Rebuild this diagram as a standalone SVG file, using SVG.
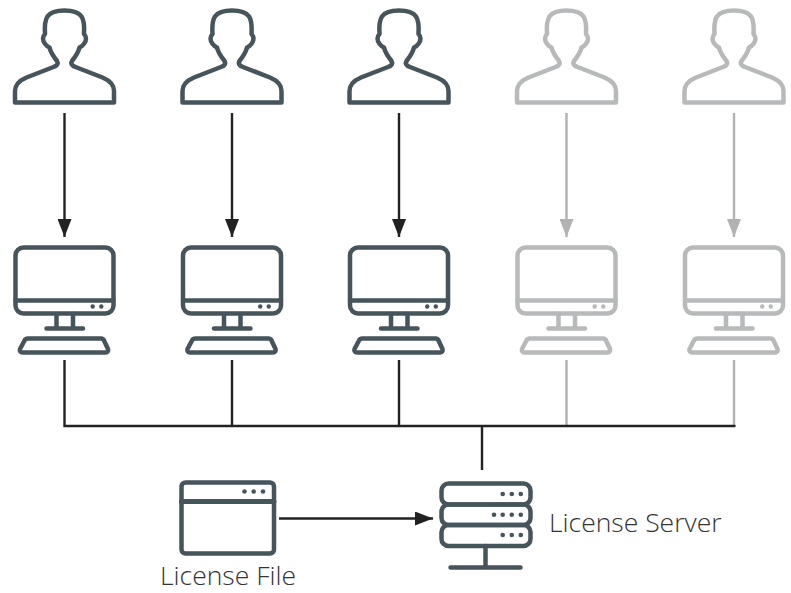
<svg xmlns="http://www.w3.org/2000/svg" xmlns:xlink="http://www.w3.org/1999/xlink" width="791" height="593" viewBox="0 0 791 593">
<style>
.ic{fill:none;stroke-width:4.5;stroke-linejoin:round;stroke-linecap:round}
.dk{stroke:#46545c}.lt{stroke:#b7b9ba}
.dd{fill:#46545c}.ld{fill:#b7b9ba}
.c{fill:none;stroke-width:2.4}
.cd{stroke:#222}.cl{stroke:#b2b2b2}
.t{font-family:"Open Sans","Noto Sans",sans-serif;font-weight:300;font-size:26.500px;fill:#333}
</style>
<defs>
<marker id="ad" markerUnits="userSpaceOnUse" markerWidth="18" markerHeight="14" refX="18" refY="7" viewBox="0 0 18 14" orient="auto"><path d="M0,0L18,7L0,14Z" fill="#222"/></marker>
<marker id="al" markerUnits="userSpaceOnUse" markerWidth="18" markerHeight="14" refX="18" refY="7" viewBox="0 0 18 14" orient="auto"><path d="M0,0L18,7L0,14Z" fill="#b2b2b2"/></marker>
<path id="person" d="M-49.500,102.500H49.500V91C49.500,85 45,80.500 38,77.500L11,67C7,65.500 6,63.500 7.500,61C11,56.500 14,52 15,47.500C18.500,46 21.500,42 21.500,38.500C21.500,36.500 20.500,35 19.500,34C20.500,18 18,10.500 0,10.500C-18,10.500 -20.500,18 -19.500,34C-20.500,35 -21.500,36.500 -21.500,38.500C-21.500,42 -18.500,46 -15,47.500C-14,52 -11,56.500 -7.500,61C-6,63.500 -7,65.500 -11,67L-38,77.500C-45,80.500 -49.500,85 -49.500,91Z"/>
<g id="pc">
<rect x="-49" y="247.500" width="98" height="66" rx="8"/>
<path d="M-49,300.500H49M-8,314V328.500M8.500,314V328.500M-18,328.500H18.500M-36.500,338.500H36.500C38,338.500 39,339 39.500,340.500L43.500,349C44,351 43,352.500 41,352.500H-42C-44,352.500 -45,351 -44.500,349L-40,340.500C-39.500,339 -38.500,338.500 -36.500,338.500Z"/>
</g>
</defs>
<g id="connectors">
<path class="c cd" d="M64.500,113V237" marker-end="url(#ad)"/>
<path class="c cd" d="M232,113V237" marker-end="url(#ad)"/>
<path class="c cd" d="M399,113V237" marker-end="url(#ad)"/>
<path class="c cl" d="M566.500,113V237" marker-end="url(#al)"/>
<path class="c cl" d="M734,113V237" marker-end="url(#al)"/>
<path class="c cl" d="M566.500,360V426M734,360V426"/>
<path class="c cd" d="M64.500,360V426M232,360V426M399,360V426M63.300,426H735.500M482,426V470"/>
<path class="c cd" d="M279,518.500H433" marker-end="url(#ad)"/>
</g>
<g id="user1" class="ic dk" transform="translate(64.500,0)"><use xlink:href="#person"/></g>
<g id="user2" class="ic dk" transform="translate(232,0)"><use xlink:href="#person"/></g>
<g id="user3" class="ic dk" transform="translate(399,0)"><use xlink:href="#person"/></g>
<g id="user4" class="ic lt" transform="translate(566.500,0)"><use xlink:href="#person"/></g>
<g id="user5" class="ic lt" transform="translate(734,0)"><use xlink:href="#person"/></g>
<g id="pc1" class="ic dk" transform="translate(64.500,0)"><use xlink:href="#pc"/><circle class="dd" cx="28.200" cy="306.500" r="2.200" style="stroke:none"/><circle class="dd" cx="36.800" cy="306.500" r="2.200" style="stroke:none"/></g>
<g id="pc2" class="ic dk" transform="translate(232,0)"><use xlink:href="#pc"/><circle class="dd" cx="28.200" cy="306.500" r="2.200" style="stroke:none"/><circle class="dd" cx="36.800" cy="306.500" r="2.200" style="stroke:none"/></g>
<g id="pc3" class="ic dk" transform="translate(399,0)"><use xlink:href="#pc"/><circle class="dd" cx="28.200" cy="306.500" r="2.200" style="stroke:none"/><circle class="dd" cx="36.800" cy="306.500" r="2.200" style="stroke:none"/></g>
<g id="pc4" class="ic lt" transform="translate(566.500,0)"><use xlink:href="#pc"/><circle class="ld" cx="28.200" cy="306.500" r="2.200" style="stroke:none"/><circle class="ld" cx="36.800" cy="306.500" r="2.200" style="stroke:none"/></g>
<g id="pc5" class="ic lt" transform="translate(734,0)"><use xlink:href="#pc"/><circle class="ld" cx="28.200" cy="306.500" r="2.200" style="stroke:none"/><circle class="ld" cx="36.800" cy="306.500" r="2.200" style="stroke:none"/></g>
<g id="license-file">
<rect class="ic dk" x="181.500" y="482.500" width="92.500" height="71" rx="4"/>
<path class="ic dk" style="stroke-width:5" d="M181.500,501.500H274"/>
<circle class="dd" cx="244.500" cy="491.500" r="2.300"/><circle class="dd" cx="253.700" cy="491.500" r="2.300"/><circle class="dd" cx="263" cy="491.500" r="2.300"/>
<text class="t" x="160" y="585">License File</text>
</g>
<g id="license-server">
<rect class="ic dk" x="441.500" y="483.500" width="89" height="21" rx="7"/>
<rect class="ic dk" x="441.500" y="504.500" width="89" height="20.500" rx="7"/>
<rect class="ic dk" x="441.500" y="525" width="89" height="21" rx="7"/>
<path class="ic dk" d="M485.500,546V567.500M450.500,567.500H520.500"/>
<g class="dd">
<circle cx="502.700" cy="494" r="2.300"/><circle cx="511.800" cy="494" r="2.300"/><circle cx="520.800" cy="494" r="2.300"/>
<circle cx="494" cy="514.700" r="2.300"/><circle cx="502.700" cy="514.700" r="2.300"/><circle cx="511.800" cy="514.700" r="2.300"/><circle cx="520.800" cy="514.700" r="2.300"/>
<circle cx="502.700" cy="535" r="2.300"/><circle cx="511.800" cy="535" r="2.300"/><circle cx="520.800" cy="535" r="2.300"/>
</g>
<text class="t" x="549" y="532">License Server</text>
</g>
</svg>
